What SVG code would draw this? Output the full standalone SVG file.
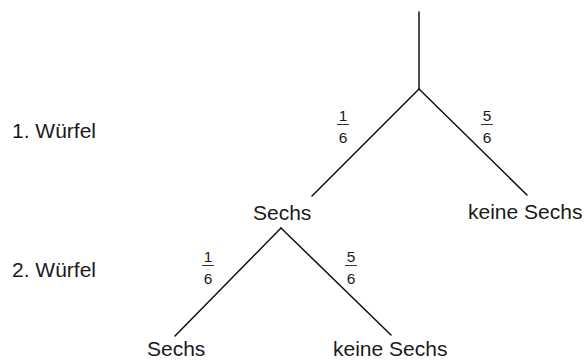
<svg xmlns="http://www.w3.org/2000/svg" width="585" height="360" viewBox="0 0 585 360">
<style>
.lbl{font-family:"Liberation Sans",Arial,sans-serif;font-size:21px;fill:#1a1a1a}
.num{font-family:"Liberation Sans",Arial,sans-serif;font-size:15.5px;fill:#1a1a1a;text-anchor:middle}
.ln{stroke:#111;stroke-width:1.5;fill:none;stroke-linecap:round}
.bar{stroke:#333;stroke-width:1}
</style>
<rect width="585" height="360" fill="#fff"/>
<g id="connectors">
<path class="ln" d="M419,12 L419,89"/>
<path class="ln" d="M419,89 L312,196"/>
<path class="ln" d="M419,89 L527,195"/>
<path class="ln" d="M281,228 L175,336"/>
<path class="ln" d="M281,228 L391,335"/>
</g>
<g id="stage1"><text class="lbl" x="12" y="138">1. Würfel</text></g>
<g id="stage2"><text class="lbl" x="12" y="277">2. Würfel</text></g>
<g id="p1"><text class="num" x="343" y="120.5">1</text><line class="bar" x1="337" y1="124.5" x2="349" y2="124.5"/><text class="num" x="343" y="142.5">6</text></g>
<g id="p2"><text class="num" x="487" y="120.5">5</text><line class="bar" x1="481" y1="124.5" x2="493" y2="124.5"/><text class="num" x="487" y="142.5">6</text></g>
<g id="p3"><text class="num" x="208" y="261.5">1</text><line class="bar" x1="202" y1="265.5" x2="214" y2="265.5"/><text class="num" x="208" y="283.5">6</text></g>
<g id="p4"><text class="num" x="351" y="261.5">5</text><line class="bar" x1="345" y1="265.5" x2="357" y2="265.5"/><text class="num" x="351" y="283.5">6</text></g>
<g id="n-sechs1"><text class="lbl" x="253" y="220">Sechs</text></g>
<g id="n-keine1"><text class="lbl" x="468" y="219">keine Sechs</text></g>
<g id="n-sechs2"><text class="lbl" x="147" y="356">Sechs</text></g>
<g id="n-keine2"><text class="lbl" x="333" y="356">keine Sechs</text></g>
</svg>
